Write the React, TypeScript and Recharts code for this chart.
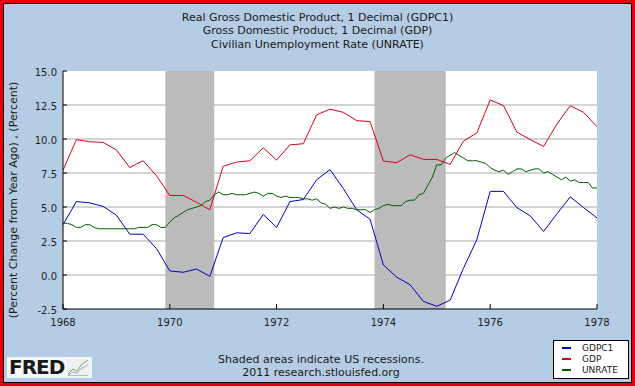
import React from "react";
import {
  LineChart,
  Line,
  XAxis,
  YAxis,
  CartesianGrid,
  ReferenceArea,
} from "recharts";

// quarterly, 1968Q1 .. 1978Q1 (percent change from year ago)
const gdpc1 = [
  3.7, 5.4, 5.3, 5.05, 4.4, 3.0, 3.0, 1.95,
  0.3, 0.2, 0.44, -0.1, 2.75, 3.1, 3.05, 4.45,
  3.5, 5.4, 5.55, 7.0, 7.75, 6.35, 4.8, 4.1,
  0.74, -0.16, -0.72, -1.94, -2.3, -1.85, 0.5, 2.6,
  6.15, 6.15, 4.95, 4.35, 3.2, 4.5, 5.75, 4.95,
  4.2,
];

const gdp = [
  7.7, 9.95, 9.8, 9.75, 9.2, 7.9, 8.4, 7.3,
  5.85, 5.85, 5.35, 4.8, 8.0, 8.3, 8.4, 9.35,
  8.45, 9.57, 9.65, 11.77, 12.2, 11.96, 11.35, 11.28,
  8.38, 8.26, 8.84, 8.5, 8.5, 8.13, 9.85, 10.45,
  12.87, 12.45, 10.5, 9.96, 9.45, 11.1, 12.45, 11.96,
  10.9,
];

// monthly, Jan 1968 .. Jan 1978 (percent)
const unrate = [
  3.8, 3.8, 3.7, 3.5, 3.5, 3.7, 3.7, 3.5, 3.4, 3.4, 3.4, 3.4,
  3.4, 3.4, 3.4, 3.4, 3.4, 3.5, 3.5, 3.5, 3.7, 3.7, 3.5, 3.5,
  3.9, 4.2, 4.4, 4.6, 4.8, 4.9, 5.0, 5.1, 5.4, 5.5, 5.9, 6.1,
  5.9, 5.9, 6.0, 5.9, 5.9, 5.9, 6.0, 6.1, 6.0, 5.8, 6.0, 6.0,
  5.8, 5.7, 5.8, 5.7, 5.7, 5.7, 5.6, 5.6, 5.5, 5.6, 5.3, 5.2,
  4.9, 5.0, 4.9, 5.0, 4.9, 4.9, 4.8, 4.8, 4.8, 4.6, 4.8, 4.9,
  5.1, 5.2, 5.1, 5.1, 5.1, 5.4, 5.5, 5.5, 5.9, 6.0, 6.6, 7.2,
  8.1, 8.1, 8.6, 8.8, 9.0, 8.8, 8.6, 8.4, 8.4, 8.4, 8.3, 8.2,
  7.9, 7.7, 7.6, 7.7, 7.4, 7.6, 7.8, 7.8, 7.6, 7.7, 7.8, 7.8,
  7.5, 7.6, 7.4, 7.2, 7.0, 7.2, 6.9, 7.0, 6.8, 6.8, 6.8, 6.4,
  6.4,
];

const recessions = [
  [1969.917, 1970.833],
  [1973.833, 1975.167],
];

const xTicks = [1968, 1970, 1972, 1974, 1976, 1978];
const yTicks = [-2.5, 0, 2.5, 5, 7.5, 10, 12.5, 15];
const gridValues = [0, 2.5, 5, 7.5, 10, 12.5];

const titleLines = [
  "Real Gross Domestic Product, 1 Decimal (GDPC1)",
  "Gross Domestic Product, 1 Decimal (GDP)",
  "Civilian Unemployment Rate (UNRATE)",
];

const legendItems = [
  { name: "GDPC1", color: "#0000c8" },
  { name: "GDP", color: "#d8001c" },
  { name: "UNRATE", color: "#006000" },
];

const quarterly = (vals: number[]) => vals.map((v, i) => ({ t: 1968 + i / 4, v }));
const monthly = (vals: number[]) => vals.map((v, i) => ({ t: 1968 + i / 12, v }));

const FONT = "'DejaVu Sans', Verdana, sans-serif";
const BG = "#b4cde4";

function XTick(props: any) {
  const { x, y, payload } = props;
  return (
    <g>
      <line x1={x} x2={x} y1={y} y2={y - 5} stroke="#000" />
      <text x={x} y={y + 17} textAnchor="middle" fontSize={10} fill="#222" fontFamily={FONT}>
        {payload.value}
      </text>
    </g>
  );
}

function YTick(props: any) {
  const { x, y, payload } = props;
  return (
    <g>
      <line x1={x} x2={x + 4} y1={y} y2={y} stroke="#000" />
      <text x={x - 6} y={y + 5} textAnchor="end" fontSize={10} fill="#222" fontFamily={FONT}>
        {payload.value.toFixed(1)}
      </text>
    </g>
  );
}

function FredLogo() {
  return (
    <div
      style={{
        position: "absolute",
        left: 4,
        top: 354,
        width: 85,
        height: 21,
        background: "#f4f6f8",
        display: "flex",
        alignItems: "center",
      }}
    >
      <span
        style={{
          fontFamily: "'DejaVu Sans', sans-serif",
          fontWeight: 900,
          fontSize: 20,
          lineHeight: "21px",
          color: "#1a1a1a",
          letterSpacing: -1,
          marginLeft: 2,
        }}
      >
        FRED
      </span>
      <svg width={22} height={17} style={{ marginLeft: 3 }}>
        <rect x={0} y={0} width={22} height={17} fill="#eef1f3" />
        <polyline points="1,15 6,10 10,12 15,5 21,1" fill="none" stroke="#7aa65a" strokeWidth={1} />
        <polyline points="1,16 6,13 10,14 15,9 21,6" fill="none" stroke="#9bb0c4" strokeWidth={1} />
        <line x1={1} x2={21} y1={16.5} y2={16.5} stroke="#bbb" />
      </svg>
    </div>
  );
}

export default function App() {
  return (
    <div
      style={{
        position: "absolute",
        left: 0,
        top: 0,
        width: 635,
        height: 386,
        boxSizing: "border-box",
        border: "3px solid #e8000c",
        background: "#e8000c",
      }}
    >
      <div
        style={{
          position: "absolute",
          left: 0,
          top: 0,
          right: 0,
          bottom: 0,
          border: "1px solid #000",
          background: BG,
        }}
      />
      <div style={{ position: "absolute", left: -3, top: -3 }}>
        <LineChart
          width={635}
          height={386}
          margin={{ top: 71, right: 38, bottom: 47, left: 13 }}
        >
          <CartesianGrid
            vertical={false}
            horizontalValues={gridValues}
            stroke="#a8a8a8"
            fill="#ffffff"
          />
          {recessions.map(([a, b], i) => (
            <ReferenceArea
              key={i}
              x1={a}
              x2={b}
              y1={-2.5}
              y2={15}
              fill="#bbbbbb"
              fillOpacity={1}
              stroke="none"
            />
          ))}
          <XAxis
            type="number"
            dataKey="t"
            domain={[1968, 1978]}
            ticks={xTicks}
            interval={0}
            allowDataOverflow
            height={30}
            tickSize={0}
            tickMargin={0}
            tickLine={false}
            axisLine={{ stroke: "#000" }}
            tick={<XTick />}
          />
          <YAxis
            type="number"
            domain={[-2.5, 15]}
            ticks={yTicks}
            interval={0}
            allowDataOverflow
            width={50}
            tickSize={0}
            tickMargin={0}
            tickLine={false}
            axisLine={{ stroke: "#000" }}
            tick={<YTick />}
          />
          <Line
            data={monthly(unrate)}
            dataKey="v"
            type="linear"
            stroke="#006000"
            strokeWidth={1}
            dot={false}
            isAnimationActive={false}
          />
          <Line
            data={quarterly(gdp)}
            dataKey="v"
            type="linear"
            stroke="#d8001c"
            strokeWidth={1}
            dot={false}
            isAnimationActive={false}
          />
          <Line
            data={quarterly(gdpc1)}
            dataKey="v"
            type="linear"
            stroke="#0000c8"
            strokeWidth={1}
            dot={false}
            isAnimationActive={false}
          />
        </LineChart>
      </div>

      <div
        style={{
          position: "absolute",
          left: -3,
          top: 8,
          width: 635,
          textAlign: "center",
          fontFamily: FONT,
          fontSize: 11,
          lineHeight: "13.3px",
          color: "#1a1a1a",
        }}
      >
        {titleLines.map((t) => (
          <div key={t}>{t}</div>
        ))}
      </div>

      <div
        style={{
          position: "absolute",
          left: 11 - 150,
          top: 197 - 8,
          width: 300,
          height: 16,
          transform: "rotate(-90deg)",
          textAlign: "center",
          fontFamily: FONT,
          fontSize: 11,
          lineHeight: "16px",
          color: "#1a1a1a",
          whiteSpace: "nowrap",
        }}
      >
        (Percent Change from Year Ago) , (Percent)
      </div>

      <div
        style={{
          position: "absolute",
          left: 118,
          top: 351,
          width: 400,
          textAlign: "center",
          fontFamily: FONT,
          fontSize: 11,
          lineHeight: "12.5px",
          color: "#1a1a1a",
        }}
      >
        <div>Shaded areas indicate US recessions.</div>
        <div>2011 research.stlouisfed.org</div>
      </div>

      <FredLogo />

      <div
        style={{
          position: "absolute",
          left: 550,
          top: 337,
          width: 76,
          height: 39,
          boxSizing: "border-box",
          background: "#fff",
          border: "1px solid #000",
          paddingTop: 2,
          fontFamily: FONT,
          fontSize: 9,
          color: "#1a1a1a",
        }}
      >
        {legendItems.map((it) => (
          <div key={it.name} style={{ display: "flex", alignItems: "center", height: 10.7 }}>
            <span
              style={{
                display: "inline-block",
                width: 9,
                height: 2,
                background: it.color,
                marginLeft: 8,
                marginRight: 11,
              }}
            />
            <span>{it.name}</span>
          </div>
        ))}
      </div>
    </div>
  );
}
